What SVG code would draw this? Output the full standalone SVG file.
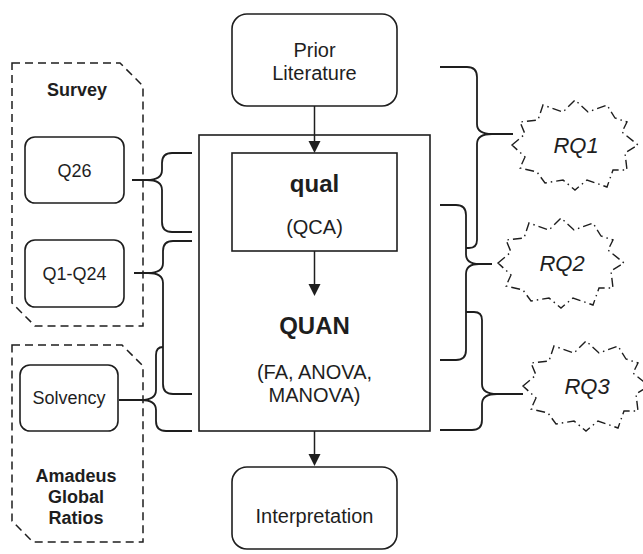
<svg xmlns="http://www.w3.org/2000/svg" xmlns:xlink="http://www.w3.org/1999/xlink" width="643" height="554" viewBox="0 0 643 554">
  <style>
    .box { fill: #fff; stroke: #1e1e1e; stroke-width: 1.6; }
    .group { fill: none; stroke: #1e1e1e; stroke-width: 1.5; stroke-dasharray: 8 5; }
    .brace { fill: none; stroke: #1e1e1e; stroke-width: 1.8; }
    .arrow { fill: none; stroke: #1e1e1e; stroke-width: 1.5; }
    .burst { fill: #fff; stroke: #1e1e1e; stroke-width: 1.4; stroke-dasharray: 9 4 1.5 4; }
    text { font-family: "Liberation Sans", Arial, sans-serif; fill: #1e1e1e; text-anchor: middle; }
    .t20 { font-size: 20px; }
    .t18 { font-size: 18px; }
    .b18 { font-size: 18px; font-weight: bold; }
    .b24 { font-size: 24px; font-weight: bold; }
    .rq { font-size: 22px; font-style: italic; }
  </style>
  <defs>
    <path id="burst" d="M-63,0 L-50,-11 L-55,-23 L-37,-25 L-32,-40 L-12,-33 L0,-45 L13,-33 L32,-40 L40,-27 L52,-23 L47,-13 L63,0 L50,8 L52,25 L38,25 L32,42 L12,35 L0,45 L-12,35 L-30,38 L-38,27 L-55,23 L-50,12 Z"/>
    <path id="head" d="M-6,-12 L6,-12 L0,0 Z"/>
  </defs>

  <!-- data source groups -->
  <g id="survey">
    <path class="group" d="M12,63 H120 L143,86 V326 H35 L12,303 Z"/>
    <text class="b18" x="77" y="96">Survey</text>
  </g>
  <g id="amadeus">
    <path class="group" d="M12,345 H122 L143,366 V542 H33 L12,521 Z"/>
    <text class="b18" x="76" y="482">Amadeus</text>
    <text class="b18" x="76" y="503">Global</text>
    <text class="b18" x="76" y="524">Ratios</text>
  </g>

  <g id="q26">
    <rect class="box" x="25" y="137" width="99" height="66" rx="10"/>
    <text class="t18" x="74.5" y="177">Q26</text>
  </g>
  <g id="q1-q24">
    <rect class="box" x="25" y="240" width="99" height="67" rx="10"/>
    <text class="t18" x="74.5" y="280">Q1-Q24</text>
  </g>
  <g id="solvency">
    <rect class="box" x="20" y="365" width="98" height="66" rx="10"/>
    <text class="t18" x="69" y="404">Solvency</text>
  </g>

  <!-- main flow -->
  <g id="prior-literature">
    <rect class="box" x="232" y="14" width="165" height="92" rx="15"/>
    <text class="t20" x="314.5" y="57">Prior</text>
    <text class="t20" x="314.5" y="80">Literature</text>
  </g>
  <g id="mixed-methods">
    <rect class="box" x="199" y="135" width="231" height="296"/>
  </g>
  <g id="qual">
    <rect class="box" x="232" y="153" width="165" height="98"/>
    <text class="b24" x="314.5" y="192">qual</text>
    <text class="t20" x="314.5" y="234">(QCA)</text>
  </g>
  <g id="quan">
    <text class="b24" x="314.5" y="334">QUAN</text>
    <text class="t20" x="314.5" y="379">(FA, ANOVA,</text>
    <text class="t20" x="314.5" y="402">MANOVA)</text>
  </g>
  <g id="interpretation">
    <rect class="box" x="232" y="467" width="165" height="82" rx="15"/>
    <text class="t20" x="314.5" y="523">Interpretation</text>
  </g>

  <!-- research questions -->
  <g id="rq1">
    <use xlink:href="#burst" class="burst" transform="translate(575,145)"/>
    <text class="rq" x="576" y="153">RQ1</text>
  </g>
  <g id="rq2">
    <use xlink:href="#burst" class="burst" transform="translate(561,263)"/>
    <text class="rq" x="562" y="271">RQ2</text>
  </g>
  <g id="rq3">
    <use xlink:href="#burst" class="burst" transform="translate(586,386)"/>
    <text class="rq" x="587" y="394">RQ3</text>
  </g>

  <!-- connectors -->
  <g id="connectors">
    <path class="arrow" d="M314.5,106 V142"/>
    <use xlink:href="#head" transform="translate(314.5,153)" fill="#1e1e1e"/>
    <path class="arrow" d="M314.5,251 V285"/>
    <use xlink:href="#head" transform="translate(314.5,296)" fill="#1e1e1e"/>
    <path class="arrow" d="M314.5,431 V455"/>
    <use xlink:href="#head" transform="translate(314.5,466)" fill="#1e1e1e"/>

    <!-- left braces -->
    <path class="brace" d="M192,153 H172 Q162,153 162,163 V170 C162,177 157,180 147,180 H132"/>
    <path class="brace" d="M147,180 C157,180 162,183 162,190 V222 Q162,232 172,232 H192"/>
    <path class="brace" d="M192,241 H173 Q163,241 163,251 V263 C163,270 158,273 148,273 H134"/>
    <path class="brace" d="M148,273 C158,273 163,276 163,283 V384 Q163,394 173,394 H192"/>
    <path class="brace" d="M163,347 Q156,347 156,355 V390 C156,397 151,400 141,400 H119"/>
    <path class="brace" d="M141,400 C151,400 156,403 156,410 V421 Q156,431 166,431 H192"/>

    <!-- right braces -->
    <path class="brace" d="M440,67 H467 Q477,67 477,77 V124 C477,131 482,134 492,134 H513"/>
    <path class="brace" d="M492,134 C482,134 477,137 477,144 V240 Q477,248 469,248 H466"/>
    <path class="brace" d="M440,205 H456 Q466,205 466,215 V254 C466,261 471,264 479,264 H492"/>
    <path class="brace" d="M479,264 C471,264 466,267 466,274 V350 Q466,360 456,360 H440"/>
    <path class="brace" d="M466,312 H474 Q482,312 482,320 V384 C482,391 487,394 497,394 H523"/>
    <path class="brace" d="M497,394 C487,394 482,397 482,404 V420 Q482,430 472,430 H440"/>
  </g>
</svg>
